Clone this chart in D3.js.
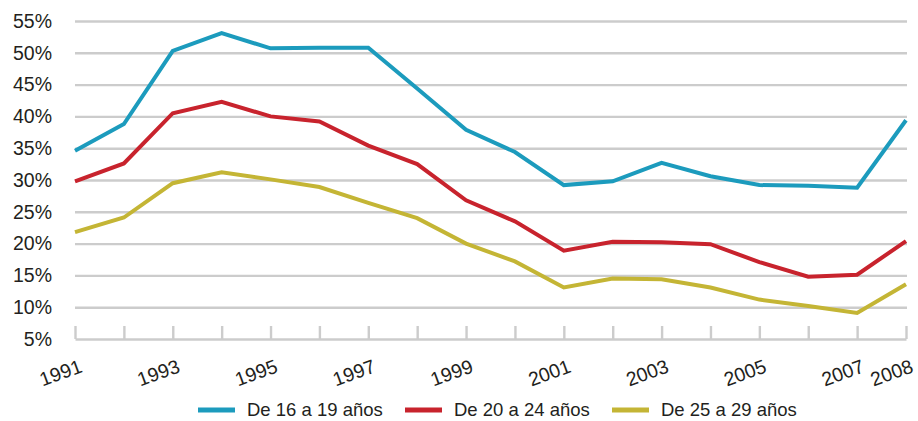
<!DOCTYPE html>
<html><head><meta charset="utf-8">
<script src="https://cdn.jsdelivr.net/npm/d3@7"></script>
<style>body{margin:0;background:#fff}svg{display:block}text{font-family:"Liberation Sans",Arial,sans-serif;fill:#231f20}</style>
</head><body>
<svg id="c" width="918" height="421"></svg>
<script>
const years = [1991,1992,1993,1994,1995,1996,1997,1998,1999,2000,2001,2002,2003,2004,2005,2006,2007,2008];
const yearLabels = [1991,1993,1995,1997,1999,2001,2003,2005,2007,2008];
const yTicks = [5,10,15,20,25,30,35,40,45,50,55];
const seriesNames = ["De 16 a 19 años","De 20 a 24 años","De 25 a 29 años"];
const seriesColors = ["#1c9bbd","#c8232d","#c4b535"];
const s16_19 = [34.6,38.8,50.3,53.1,50.7,50.8,50.8,44.4,37.9,34.4,29.2,29.8,32.7,30.6,29.2,29.1,28.8,39.4];
const s20_24 = [29.8,32.6,40.5,42.3,40.0,39.2,35.4,32.5,26.8,23.5,18.9,20.3,20.2,19.9,17.1,14.8,15.1,20.4];
const s25_29 = [21.8,24.1,29.5,31.2,30.1,28.9,26.4,24.0,20.0,17.2,13.1,14.5,14.4,13.1,11.2,10.2,9.1,13.6];
const allSeries = [s16_19, s20_24, s25_29];

const svg = d3.select("#c");
const x = d3.scaleLinear().domain([1991,2008]).range([75,906]);
const y = d3.scaleLinear().domain([5,55]).range([339,21]);

// gridlines
const gridAxis = d3.axisLeft(y).tickValues(yTicks.filter(v=>v>5)).tickSize(-(906-75)).tickFormat("");
const g = svg.append("g").attr("transform","translate(75,0)").call(gridAxis);
g.select(".domain").remove();
g.selectAll("line").attr("stroke","#cccccc").attr("stroke-width",2.4).attr("x1",0).attr("x2",906-75+1);

// y labels
svg.append("g").selectAll("text").data(yTicks).join("text")
  .attr("x",52).attr("y",d=>y(d)).attr("dy","0.35em").attr("text-anchor","end")
  .attr("font-size",19.5).text(d=>d+"%");

// x axis baseline & ticks
const xa = svg.append("g").attr("transform","translate(0,339)")
  .call(d3.axisTop(x).tickValues(years).tickSize(13).tickSizeOuter(0).tickFormat(""));
xa.select(".domain").attr("stroke","#cccccc").attr("stroke-width",2.4);
xa.selectAll(".tick line").attr("stroke","#cccccc").attr("stroke-width",2.4);

// x labels
svg.append("g").selectAll("text").data(yearLabels).join("text")
  .attr("transform",d=>`translate(${x(d)+3},${357}) rotate(-20)`)
  .attr("text-anchor","end").attr("dy","0.8em").attr("font-size",19.5).text(d=>d);

// lines
const line = d3.line().x((d,i)=>x(years[i])).y(d=>y(d));
svg.append("g").selectAll("path").data(allSeries).join("path")
  .attr("d",line).attr("fill","none").attr("stroke",(d,i)=>seriesColors[i])
  .attr("stroke-width",4).attr("stroke-linejoin","miter");

// legend
const legX = [198,405,612];
const leg = svg.append("g").selectAll("g").data(seriesNames).join("g")
  .attr("transform",(d,i)=>`translate(${legX[i]},410)`);
leg.append("line").attr("x1",0).attr("x2",37).attr("stroke",(d,i)=>seriesColors[i]).attr("stroke-width",5);
leg.append("text").attr("x",49).attr("dy","0.35em").attr("font-size",18.5).text(d=>d);
</script>
</body></html>
